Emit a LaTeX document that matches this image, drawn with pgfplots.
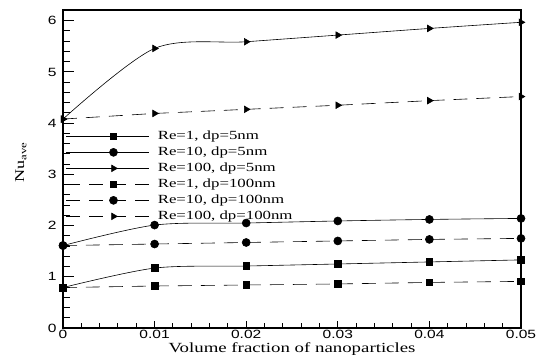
\documentclass[border=0pt]{standalone}
\usepackage{fontspec}
\setmainfont[FakeStretch=1.35]{Liberation Serif}
\setsansfont[FakeStretch=1.3]{Liberation Sans}
\usepackage{pgfplots}
\pgfplotsset{compat=1.18}
\begin{document}
\begin{tikzpicture}
\begin{axis}[
  scale only axis, width=458bp, height=318bp,
  xmin=0, xmax=0.05, ymin=0, ymax=6.21,
  clip=false,
  xtick={0,0.01,0.02,0.03,0.04,0.05},
  ytick={0,1,2,3,4,5,6},
  minor x tick num=4, minor y tick num=4,
  xtick pos=bottom, ytick pos=left, tick align=inside,
  xtick style={/pgfplots/major tick length=7bp, /pgfplots/minor tick length=5bp},
  ytick style={/pgfplots/major tick length=11bp, /pgfplots/minor tick length=7bp},
  every tick/.style={black, line width=1bp},
  axis line style={black, line width=1.3bp},
  /pgf/number format/assume math mode=true,
  ticklabel style={font=\sffamily\fontsize{12}{14}\selectfont},
  xticklabel style={/pgf/number format/fixed, /pgf/number format/precision=2, yshift=1bp},
  yticklabel style={xshift=-3bp},
  scaled x ticks=false,
  xlabel={Volume fraction of nanoparticles},
  xlabel style={at={(axis description cs:0.5,-0.076)}, anchor=base, font=\fontsize{14}{16}\selectfont},
  ylabel={Nu\textsubscript{ave}},
  ylabel style={at={(axis description cs:-0.092,0.52)}, anchor=center, font=\fontsize{13.5}{15}\selectfont},
  legend style={at={(axis description cs:0,0.63)}, anchor=north west, draw=none, fill=none,
    font=\fontsize{12.5}{14}\selectfont, nodes={inner sep=1bp, text height=8.5bp, text depth=2.5bp},
    row sep=3bp, /tikz/every odd column/.style={column sep=7bp}},
  legend cell align=left,
  legend image code/.code={\draw[mark repeat=2,mark phase=2,#1] plot coordinates {(0bp,0bp) (47bp,0bp) (83bp,0bp)};},
  s/.style={black, line width=0.6bp, mark=square*, mark size=3.3bp, mark options={solid}},
  c/.style={black, line width=0.6bp, mark=*, mark size=4bp, mark options={solid}},
  t/.style={black, line width=0.6bp, mark=triangle*, mark size=3.8bp, mark options={solid, rotate=-90}},
  dsh/.style={dash pattern=on 14bp off 9bp},
]
\addplot[s, smooth] coordinates {(0,0.79) (0.01,1.17) (0.02,1.21) (0.03,1.25) (0.04,1.29) (0.05,1.33)};
\addlegendentry{Re=1, dp=5nm}
\addplot[c, smooth] coordinates {(0,1.61) (0.01,2.01) (0.02,2.05) (0.03,2.09) (0.04,2.12) (0.05,2.14)};
\addlegendentry{Re=10, dp=5nm}
\addplot[t, smooth] coordinates {(0,4.08) (0.01,5.46) (0.02,5.59) (0.03,5.72) (0.04,5.85) (0.05,5.97)};
\addlegendentry{Re=100, dp=5nm}
\addplot[s, dsh] coordinates {(0,0.79) (0.01,0.82) (0.02,0.84) (0.03,0.86) (0.04,0.89) (0.05,0.91)};
\addlegendentry{Re=1, dp=100nm}
\addplot[c, dsh] coordinates {(0,1.61) (0.01,1.64) (0.02,1.67) (0.03,1.70) (0.04,1.73) (0.05,1.75)};
\addlegendentry{Re=10, dp=100nm}
\addplot[t, dsh] coordinates {(0,4.08) (0.01,4.19) (0.02,4.27) (0.03,4.35) (0.04,4.44) (0.05,4.52)};
\addlegendentry{Re=100, dp=100nm}
\end{axis}
\path ([shift={(-63bp,-35bp)}]current axis.south west) rectangle ([shift={(22bp,10bp)}]current axis.north east);
\end{tikzpicture}
\end{document}
